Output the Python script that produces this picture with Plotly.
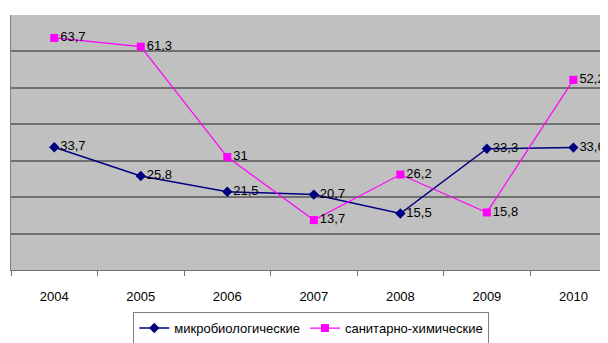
import plotly.graph_objects as go

years = [2004, 2005, 2006, 2007, 2008, 2009, 2010]
micro = [33.7, 25.8, 21.5, 20.7, 15.5, 33.3, 33.6]
sanchem = [63.7, 61.3, 31, 13.7, 26.2, 15.8, 52.2]

FONT = "Liberation Sans, Arial, sans-serif"


def labels(vals):
    return [f"{v:g}".replace(".", ",") for v in vals]


fig = go.Figure()
fig.add_trace(go.Scatter(
    x=years, y=micro, name="микробиологические",
    mode="lines+markers+text",
    line=dict(color="#000080", width=1.5),
    marker=dict(symbol="diamond", size=8, color="#000080"),
    text=labels(micro), textposition="middle right",
    textfont=dict(size=13, color="#000000", family=FONT),
    cliponaxis=False,
))
fig.add_trace(go.Scatter(
    x=years, y=sanchem, name="санитарно-химические",
    mode="lines+markers+text",
    line=dict(color="#FF00FF", width=1.2),
    marker=dict(symbol="square", size=8, color="#FF00FF"),
    text=labels(sanchem), textposition="middle right",
    textfont=dict(size=13, color="#000000", family=FONT),
    cliponaxis=False,
))

# page body adds ~8px offset, so figure is a bit smaller than the window
fig.update_layout(
    width=600, height=335,
    margin=dict(l=3, r=0, t=7, b=73, autoexpand=False),
    paper_bgcolor="white",
    plot_bgcolor="#C0C0C0",
    font=dict(family=FONT, size=13, color="#000000"),
    showlegend=True,
    legend=dict(
        orientation="h", x=0.503, xanchor="center", y=-0.165, yanchor="top",
        bordercolor="#808080", borderwidth=1, bgcolor="white",
        font=dict(size=13, family=FONT),
        itemwidth=30, tracegroupgap=0,
    ),
    xaxis=dict(
        range=[2003.5, 2010.4],
        tickvals=years, ticktext=[str(y) for y in years],
        ticks="", showgrid=False, zeroline=False,
        showline=True, linecolor="#707070", linewidth=1,
        minor=dict(tick0=2003.5, dtick=1, ticks="outside", ticklen=5, tickcolor="#707070", showgrid=False),
        tickfont=dict(size=13),
        ticklabelstandoff=14,
    ),
    yaxis=dict(
        range=[0, 70], dtick=10,
        showticklabels=False, ticks="",
        showgrid=True, gridcolor="#707070", gridwidth=2,
        zeroline=False,
        showline=True, linecolor="#808080", linewidth=1, mirror=True,
    ),
)

fig.write_html("out.html")
